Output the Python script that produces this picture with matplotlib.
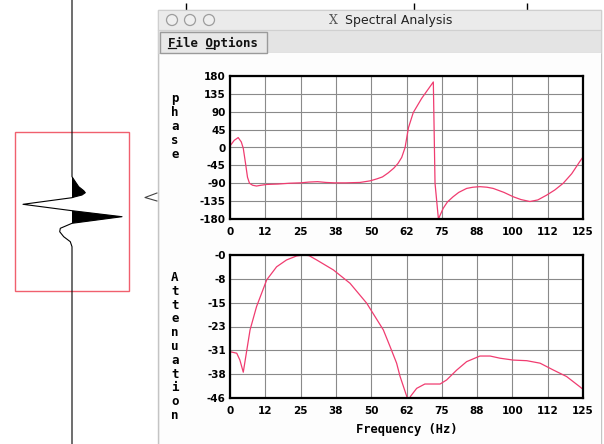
import matplotlib
matplotlib.use("Agg")
import matplotlib.pyplot as plt
from matplotlib.patches import Rectangle, Circle
import numpy as np

# ---------------- data ----------------
phase_freq = [0, 1.5, 2.9, 4.0, 4.7, 5.5, 6.2, 6.9, 8, 9.4, 11, 13, 17, 21, 25, 28, 31, 34,
              37, 41, 46, 49.6, 52, 54, 56, 58, 59.5, 60.8, 62, 63.2, 64.9, 67.9, 70, 72.0,
              72.6, 73.8, 75.5, 77, 79, 81, 83.8, 86, 88.5, 91, 93.2, 97, 100.3, 103, 106.2,
              109, 112.1, 115, 118, 121, 123.9, 125]
phase_deg = [4, 18, 25, 14, -2, -40, -75, -90, -95, -97, -95, -93, -92, -90, -89, -87, -86, -88,
             -89, -89, -88, -84, -79, -74, -64, -52, -40, -25, 0, 50, 88, 124, 145, 165,
             -90, -180, -153, -137, -124, -113, -103, -100, -98.6, -100, -103, -113, -124, -131, -136,
             -132, -120, -107, -90, -66, -35, -24]

atten_freq = [0, 2.4, 3.5, 4.7, 7.1, 9.4, 13, 16.5, 20, 23.6, 26, 28, 30.7, 36.6, 42.5, 48.4,
              54.3, 56.7, 59, 60.2, 62.6, 63.2, 63.9, 66.1, 69, 74.4, 76.7, 80.3, 83.8, 88.5,
              92.1, 95.6, 100.3, 105.1, 109.8, 114.5, 119.2, 123.9, 125]
atten_db = [-31.1, -31.6, -33.8, -37.7, -24.1, -16.6, -8, -3.8, -1.6, -0.3, 0, -0.2, -1.6, -4.8,
            -9.1, -15.5, -24.1, -29.5, -34.8, -39, -45.5, -47, -45.5, -42.9, -41.5, -41.5, -40.2,
            -37, -34.3, -32.5, -32.5, -33.2, -33.8, -34, -34.8, -37, -39.1, -42.4, -43.2]

x_ticks = [0, 12.5, 25, 37.5, 50, 62.5, 75, 87.5, 100, 112.5, 125]
x_tick_labels = ["0", "12", "25", "38", "50", "62", "75", "88", "100", "112", "125"]
phase_ticks = [-180, -135, -90, -45, 0, 45, 90, 135, 180]
phase_tick_labels = ["-180", "-135", "-90", "-45", "0", "45", "90", "135", "180"]
atten_ticks = [-46, -46 * 5 / 6, -46 * 4 / 6, -46 * 3 / 6, -46 * 2 / 6, -46 / 6, 0]
atten_tick_labels = ["-46", "-38", "-31", "-23", "-15", "-8", "-0"]

# wiggle trace (time sample, amplitude)
trace_t = [0, 176.7, 181.7, 186.7, 190.7, 192.7, 195, 196.7, 197.7, 204.3, 210.7, 216.7,
           223.3, 228.3, 231.7, 236.7, 241.7, 246.7, 444]
trace_amp = [0, 0, 3.3, 6.7, 11.7, 13.3, 10, 3.3, 0, -49, 0, 50, 0, -11.7, -12.3, -8.3,
             -1.7, 0, 0]

# ---------------- figure ----------------
W, H = 604, 444
fig = plt.figure(figsize=(W / 100, H / 100), dpi=100)
fig.patch.set_facecolor("white")

bg = fig.add_axes([0, 0, 1, 1])
bg.set_xlim(0, W)
bg.set_ylim(H, 0)
bg.axis("off")

# background seismic window pieces
tt = np.array(trace_t)
aa = np.array(trace_amp)
bg.plot(72 + aa, tt, color="black", lw=0.8, zorder=2)
bg.fill_betweenx(tt, 72, 72 + aa, where=aa > 0, interpolate=True, color="black", lw=0, zorder=2)
bg.add_patch(Rectangle((15, 132), 114, 159, fill=False, ec="#f0606e", lw=1.0, zorder=1))
bg.vlines([186, 414, 527], 3, 10, color="black", lw=1.0)
bg.plot([157, 145, 157], [193, 197.5, 201], color="#444444", lw=0.8)

# dialog window
bg.add_patch(Rectangle((158, 10), 443, 440, fc="#f4f4f4", ec="#c4c4c4", lw=1.0, zorder=3))
bg.add_patch(Rectangle((158, 10), 443, 20, fc="#ebebeb", ec="#cfcfcf", lw=0.8, zorder=3))
bg.add_patch(Rectangle((158, 30), 443, 23, fc="#e4e4e4", ec="#d0d0d0", lw=0.8, zorder=3))
bg.add_patch(Rectangle((160, 53), 441, 395, fc="#fdfdfd", ec="none", zorder=3))
bg.add_patch(Rectangle((160, 32), 107, 21, fc="#e8e8e8", ec="#9a9a9a", lw=1.0, zorder=4))
for cx in (172, 190, 209):
    bg.add_patch(Circle((cx, 20), 5.5, fc="#efefef", ec="#9d9d9d", lw=0.9, zorder=4))
bg.text(333, 20.5, "X", family="DejaVu Serif", size=9, color="#555555",
        ha="center", va="center", zorder=5)
bg.text(345, 20.5, "Spectral Analysis", family="DejaVu Sans", size=9, color="#222222",
        ha="left", va="center", zorder=5)
bg.text(168, 43, "File Options", family="DejaVu Sans Mono", weight="bold", size=9,
        color="#111111", ha="left", va="center", zorder=5)
cw = 7.52
bg.plot([168, 168 + cw], [48.5, 48.5], color="#111111", lw=0.9, zorder=5)
bg.plot([168 + 5 * cw, 168 + 6 * cw], [48.5, 48.5], color="#111111", lw=0.9, zorder=5)

curve_color = "#f03c70"
tick_font = dict(family="DejaVu Sans", weight="bold", size=7.5)
label_font = dict(family="DejaVu Sans Mono", weight="bold", size=9)


def style(ax):
    ax.set_facecolor("white")
    for s in ax.spines.values():
        s.set_linewidth(1.6)
        s.set_color("black")
    ax.grid(True, color="#8a8a8a", lw=0.8)
    ax.set_axisbelow(True)
    ax.tick_params(length=0, pad=6, axis="x")
    ax.tick_params(length=0, pad=3, axis="y")
    ax.set_xlim(0, 125)
    ax.set_xticks(x_ticks)
    ax.set_xticklabels(x_tick_labels, **tick_font)


ax1 = fig.add_axes([230 / W, 1 - 219 / H, 353 / W, 143 / H])
style(ax1)
ax1.plot(phase_freq, phase_deg, color=curve_color, lw=0.9)
ax1.set_ylim(-180, 180)
ax1.set_yticks(phase_ticks)
ax1.set_yticklabels(phase_tick_labels, **tick_font)
ax1.set_ylabel("\n".join("phase"), rotation=0, linespacing=1.1, va="center", ha="center",
               **label_font)
ax1.yaxis.set_label_coords(-0.156, 0.65)

ax2 = fig.add_axes([230 / W, 1 - 398 / H, 353 / W, 143 / H])
style(ax2)
ax2.plot(atten_freq, atten_db, color=curve_color, lw=0.9)
ax2.set_ylim(-46, 0)
ax2.set_yticks(atten_ticks)
ax2.set_yticklabels(atten_tick_labels, **tick_font)
ax2.set_ylabel("\n".join("Attenuation"), rotation=0, linespacing=1.08, va="center",
               ha="center", **label_font)
ax2.yaxis.set_label_coords(-0.156, 0.36)
ax2.set_xlabel("Frequency (Hz)", labelpad=5, **dict(label_font, size=8.7))

fig.savefig("out.png", dpi=100, facecolor="white")
